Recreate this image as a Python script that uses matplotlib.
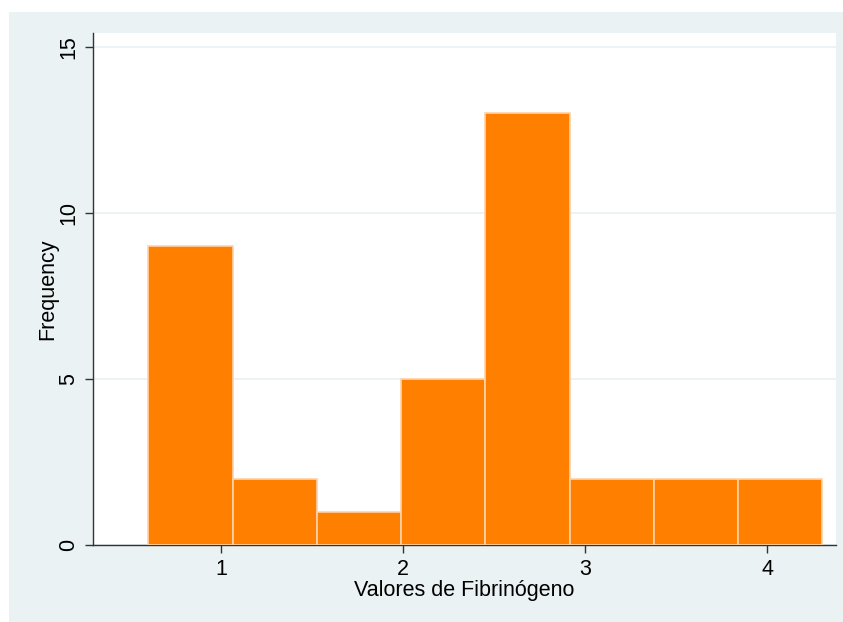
import numpy as np
import matplotlib.pyplot as plt
from matplotlib.patches import Rectangle

# histogram bins (left edges) and counts
bin_start = 0.601
bin_width = 0.4626
counts = [9, 2, 1, 5, 13, 2, 2, 2]
bin_lefts = bin_start + bin_width * np.arange(len(counts))

xticks = [1, 2, 3, 4]
yticks = [0, 5, 10, 15]

plt.rcParams['font.family'] = ['Liberation Sans', 'DejaVu Sans']

fig = plt.figure(figsize=(8.43, 6.22), dpi=100, facecolor='white')
# stata-like light background panel
fig.add_artist(Rectangle((9 / 843, 0), 1, (622 - 12) / 622, transform=fig.transFigure,
                         facecolor='#EAF2F3', edgecolor='none', zorder=-10))

ax = fig.add_axes([93 / 843, 77 / 622, 743 / 843, 512 / 622])
ax.set_zorder(1)
ax.set_facecolor('white')

ax.bar(bin_lefts, counts, width=bin_width, align='edge', color='#FF8000',
       edgecolor='#FFD2A8', linewidth=1.2, zorder=3)

ax.set_xlim(0.297, 4.377)
ax.set_ylim(0, 15.42)
ax.set_xticks(xticks)
ax.set_yticks(yticks)
ax.set_yticklabels([str(t) for t in yticks], rotation=90, va='center')
ax.yaxis.grid(True, color='#EAF2F3', linewidth=1.3, zorder=0)
ax.set_axisbelow(True)

for s in ['top', 'right']:
    ax.spines[s].set_visible(False)
for s in ['left', 'bottom']:
    ax.spines[s].set_color('#333333')
    ax.spines[s].set_linewidth(1.0)

ax.tick_params(axis='both', length=6, width=1, color='#333333', labelsize=15.5, pad=4)
ax.set_xlabel('Valores de Fibrinógeno', fontsize=15.5, labelpad=0)
ax.set_ylabel('Frequency', fontsize=15.5, labelpad=0)

fig.savefig('out.png', dpi=100)
